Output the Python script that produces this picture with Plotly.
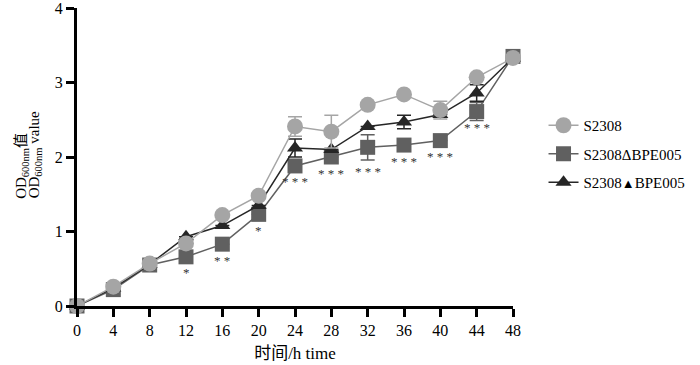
import plotly.graph_objects as go

hours = [0, 4, 8, 12, 16, 20, 24, 28, 32, 36, 40, 44, 48]
s2308 = [0, 0.26, 0.57, 0.84, 1.22, 1.48, 2.41, 2.34, 2.70, 2.84, 2.63, 3.07, 3.33]
s2308_err = [0, 0, 0, 0, 0, 0, 0.13, 0.22, 0, 0, 0.12, 0, 0]
delta = [0, 0.22, 0.55, 0.66, 0.83, 1.23, 1.88, 2.00, 2.13, 2.16, 2.22, 2.61, 3.35]
delta_err = [0, 0, 0, 0, 0, 0, 0, 0, 0.17, 0, 0, 0.12, 0]
comp = [0, 0.24, 0.56, 0.93, 1.08, 1.35, 2.12, 2.10, 2.41, 2.47, 2.57, 2.86, 3.33]
comp_err = [0, 0, 0, 0, 0, 0, 0.12, 0, 0, 0.09, 0, 0.11, 0]
sig_hours = [12, 16, 20, 24, 28, 32, 36, 40, 44]
sig_labels = ["*", "* *", "*", "* * *", "* * *", "* * *", "* * *", "* * *", "* * *"]
x_ticks = hours
y_ticks = [0, 1, 2, 3, 4]

FONT = "Liberation Serif, Times New Roman, Noto Sans CJK SC, serif"
C_CIRC = "#a5a5a5"
C_SQ = "#606060"
C_TRI = "#262626"

fig = go.Figure()

fig.add_trace(go.Scatter(
    x=hours, y=delta, name="S2308ΔBPE005", mode="lines+markers",
    line=dict(color=C_SQ, width=1.5),
    marker=dict(symbol="square", size=15, color=C_SQ),
    error_y=dict(type="data", array=delta_err, color=C_SQ, thickness=1.5, width=7),
    cliponaxis=False, legendrank=2, legendgroup="b",
))
fig.add_trace(go.Scatter(
    x=hours, y=comp, name="S2308<span style='font-size:13px'>▲</span>BPE005", mode="lines+markers",
    line=dict(color=C_TRI, width=1.5),
    marker=dict(symbol="triangle-up", size=14, color=C_TRI),
    error_y=dict(type="data", array=comp_err, color=C_TRI, thickness=1.5, width=7),
    cliponaxis=False, legendrank=3, legendgroup="c",
))
fig.add_trace(go.Scatter(
    x=hours, y=s2308, name="S2308", mode="lines+markers",
    line=dict(color=C_CIRC, width=1.5),
    marker=dict(symbol="circle", size=16, color=C_CIRC),
    error_y=dict(type="data", array=s2308_err, color=C_CIRC, thickness=1.5, width=7),
    cliponaxis=False, legendrank=1, legendgroup="a",
))

for h, lab in zip(sig_hours, sig_labels):
    i = hours.index(h)
    shift = -24 if delta_err[i] > 0.15 else -16
    fig.add_annotation(x=h, y=delta[i], text=lab, showarrow=False,
                       yshift=shift, font=dict(family=FONT, size=13, color="#333333"))

# y-axis title: two left-aligned rotated lines
for txt, xs in [("OD<sub>600nm</sub>值", -55), ("OD<sub>600nm</sub> value", -42)]:
    fig.add_annotation(x=0, y=0.353, xref="paper", yref="paper", text=txt,
                       textangle=-90, showarrow=False, xanchor="center", yanchor="bottom",
                       xshift=xs, font=dict(family=FONT, size=15, color="black"))

fig.update_layout(
    width=700, height=365,
    margin=dict(l=77, r=187, t=8, b=59),
    paper_bgcolor="white", plot_bgcolor="white",
    font=dict(family=FONT, size=15, color="black"),
    showlegend=True,
    legend=dict(x=1.07, y=0.51, xanchor="left", yanchor="middle",
                font=dict(family=FONT, size=15, color="black"),
                tracegroupgap=6, itemwidth=30),
    xaxis=dict(range=[0, 48], tickvals=x_ticks, ticktext=[str(t) for t in x_ticks],
               showline=True, linecolor="black", linewidth=3, ticks="outside",
               ticklen=8, tickwidth=2.5, tickcolor="black", showgrid=False, zeroline=False,
               automargin=False, ticklabeloverflow="allow",
               title=dict(text="时间/h time", font=dict(family=FONT, size=17), standoff=9),
               tickfont=dict(family=FONT, size=16)),
    yaxis=dict(range=[0, 4], tickvals=y_ticks, showline=True, linecolor="black", linewidth=3,
               ticks="outside", ticklen=8, tickwidth=2.5, tickcolor="black",
               showgrid=False, zeroline=False, automargin=False, ticklabeloverflow="allow",
               tickfont=dict(family=FONT, size=16)),
)

fig.write_html("out.html", config={"displayModeBar": False},
               post_script="document.body.style.margin='0';")
